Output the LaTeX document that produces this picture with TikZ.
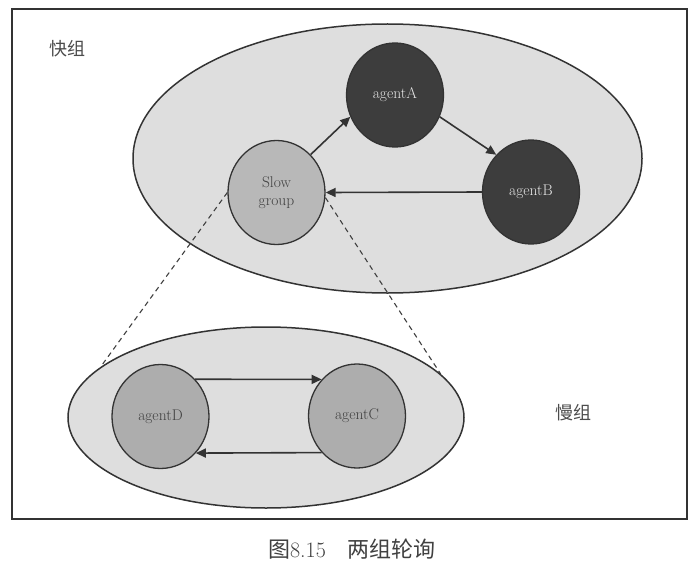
\documentclass[tikz,border=0pt]{standalone}
\usepackage{fontspec}
\newfontfamily\cjk{Noto Sans CJK SC}
\usetikzlibrary{shapes.geometric,arrows.meta}
\begin{document}
\begin{tikzpicture}[x=1pt,y=-1pt,
  groupe/.style={ellipse,draw=black!80,line width=1.5pt,fill=black!13,inner sep=0pt},
  darkag/.style={ellipse,draw=black!80,line width=1.3pt,fill=black!76,text=black!10,
    minimum width=97pt,minimum height=104pt,inner sep=0pt,font=\fontsize{15.5}{18}\selectfont},
  lightag/.style={ellipse,draw=black!80,line width=1.3pt,fill=black!32,text=black!75,
    minimum width=97pt,minimum height=104pt,inner sep=0pt,font=\fontsize{15.5}{18}\selectfont,align=center},
  conn/.style={draw=black!80,line width=1.6pt,-{Triangle[length=10pt,width=9pt]}},
  zoomline/.style={draw=black!75,line width=1.1pt,dash pattern=on 5pt off 4pt},
  grouplabel/.style={text=black!70,font=\cjk\fontsize{18}{20}\selectfont}]
\useasboundingbox (0,0) rectangle (698,567);
\fill[white] (0,0) rectangle (698,567);
\node[draw=black!80,line width=2.2pt,minimum width=675pt,minimum height=510pt,inner sep=0pt] (frame) at (349.5,264) {};
% groups
\node[groupe,minimum width=509pt,minimum height=269pt] (fast) at (387.5,158.5) {};
\node[groupe,minimum width=396pt,minimum height=181pt] (slowg) at (266,417.5) {};
% agents
\node[darkag] (agentA) at (395,95) {agentA};
\node[darkag] (agentB) at (531,192) {agentB};
\node[lightag,fill=black!28] (slow) at (276.5,192.5) {Slow\\group};
\node[lightag] (agentD) at (160.5,416.5) {agentD};
\node[lightag] (agentC) at (357,416) {agentC};
% labels
\node[grouplabel] (fastlabel) at (67,49) {快组};
\node[grouplabel] (slowlabel) at (573,413) {慢组};
\node[text=black!75,font=\fontsize{22}{24}\selectfont] (caption) at (352,549) {{\cjk 图}8.15\hspace{1em}{\cjk 两组轮询}};
% connectors
\draw[conn] (slow.48) -- (agentA.206);
\draw[conn] (agentA.334) -- (agentB.133);
\draw[conn] (agentB.west) -- (slow.east);
\draw[conn] (agentD.47) -- (agentC.134);
\draw[conn] (agentC.-134) -- (agentD.-46);
\draw[zoomline] (slow.west) -- (slowg.163.4);
\draw[zoomline] (slow.-6) -- (slowg.14);
\end{tikzpicture}
\end{document}
